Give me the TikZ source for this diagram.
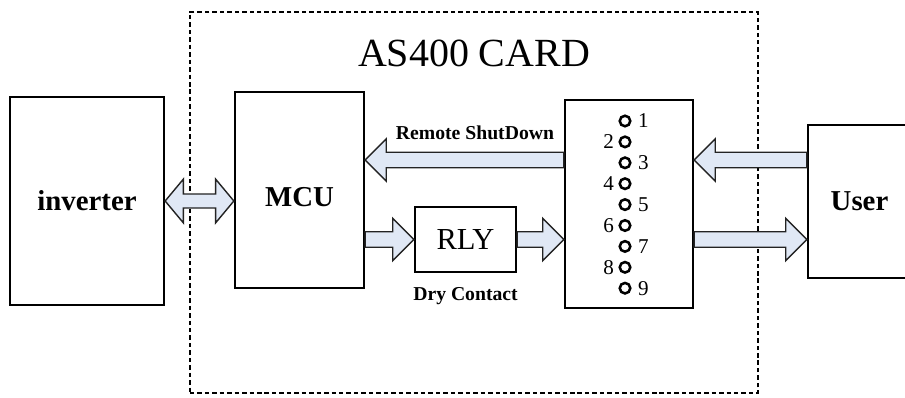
\documentclass[tikz,border=0pt]{standalone}
\usepackage{fontspec}
\setmainfont{Liberation Serif}
\usetikzlibrary{calc,positioning}

\definecolor{arrowfill}{RGB}{224,232,245}
\definecolor{arrowline}{RGB}{35,35,35}

% hollow block arrow, tail #1 -> tip #2 (horizontal)
\newcommand{\fatarrow}[2]{%
  \draw[fatarr] let \p1=(#1), \p2=(#2), \n1={ifthenelse(\x2>\x1,15,-15)} in
    (\x1,{\y1+5.5pt}) -- ({\x2-\n1*1pt},{\y1+5.5pt}) -- ({\x2-\n1*1pt},{\y1+15pt})
    -- (\x2,\y1) -- ({\x2-\n1*1pt},{\y1-15pt}) -- ({\x2-\n1*1pt},{\y1-5.5pt})
    -- (\x1,{\y1-5.5pt}) -- cycle;}
% hollow double arrow, #1 left tip, #2 right tip
\newcommand{\fatboth}[2]{%
  \draw[fatarr] let \p1=(#1), \p2=(#2) in
    (\x1,\y1) -- ({\x1+13pt},{\y1+15.6pt}) -- ({\x1+13pt},{\y1+5pt})
    -- ({\x2-13pt},{\y1+5pt}) -- ({\x2-13pt},{\y1+15.6pt}) -- (\x2,\y1)
    -- ({\x2-13pt},{\y1-15.6pt}) -- ({\x2-13pt},{\y1-5pt})
    -- ({\x1+13pt},{\y1-5pt}) -- ({\x1+13pt},{\y1-15.6pt}) -- cycle;}

\begin{document}
\begin{tikzpicture}[x=0.025cm, y=-0.025cm,
    block/.style={draw, line width=1.6pt, inner sep=0pt},
    cardbox/.style={draw, line width=1.8pt, dash pattern=on 3.2pt off 2.1pt, inner sep=0pt},
    pinhole/.style={circle, draw, line width=1.8pt, inner sep=0pt, minimum size=7.5pt},
    pinnum/.style={inner sep=0pt, font=\fontsize{15}{18}\selectfont},
    bigbold/.style={font=\fontsize{20.5}{24}\selectfont\bfseries},
    smallbold/.style={inner sep=0pt, font=\fontsize{14}{17}\selectfont\bfseries},
    fatarr/.style={draw=arrowline, fill=arrowfill, line width=1pt}]

    \useasboundingbox (0,0) rectangle (905,398);
    \clip (0,0) rectangle (905,398);

    % -----------------------------------------------------
    % 1) Tarjeta (recuadro punteado) y titulo
    % -----------------------------------------------------
    \node[cardbox, minimum width=14.2cm, minimum height=9.525cm] (card) at (474,202.5) {};
    \node[font=\fontsize{28.4}{34}\selectfont] (title) at (474,53) {AS400 CARD};

    % -----------------------------------------------------
    % 2) Bloques
    % -----------------------------------------------------
    \node[block, bigbold, minimum width=3.85cm, minimum height=5.2cm] (inv) at (87,201) {inverter};
    \node[block, bigbold, minimum width=3.225cm, minimum height=4.9cm,
          text height=23.6pt, text depth=0pt] (mcu) at (299.5,190) {MCU};
    \node[block, font=\fontsize{21.7}{26}\selectfont, minimum width=2.525cm,
          minimum height=1.625cm] (rly) at (465.5,239.5) {RLY};
    \node[block, minimum width=3.2cm, minimum height=5.2cm] (conn) at (629,204) {};
    \node[block, bigbold, minimum width=2.575cm, minimum height=3.825cm] (user) at (859.5,201.5) {User};

    % -----------------------------------------------------
    % 3) Conector de 9 pines
    % -----------------------------------------------------
    \foreach \i in {1,...,9}
        \node[pinhole] (pin\i) at (625,{121+(\i-1)*20.9}) {};
    \foreach \i in {1,3,5,7,9}
        \node[pinnum, right=4.4pt of pin\i] (num\i) {\i};
    \foreach \i in {2,4,6,8}
        \node[pinnum, left=3pt of pin\i] (num\i) {\i};

    % -----------------------------------------------------
    % 4) Flechas
    % -----------------------------------------------------
    \coordinate (upper) at (0,160);
    \fatboth{inv.east}{mcu.west |- inv.east}
    \fatarrow{conn.west |- upper}{mcu.east |- upper}
    \fatarrow{mcu.east |- rly.west}{rly.west}
    \fatarrow{rly.east}{conn.west |- rly.east}
    \fatarrow{user.west |- upper}{conn.east |- upper}
    \fatarrow{conn.east |- rly.east}{user.west |- rly.east}

    % etiquetas
    \node[smallbold] (rsd) at (475,133) {Remote ShutDown};
    \node[smallbold, below=10pt of rly] (dry) {Dry Contact};

\end{tikzpicture}
\end{document}
